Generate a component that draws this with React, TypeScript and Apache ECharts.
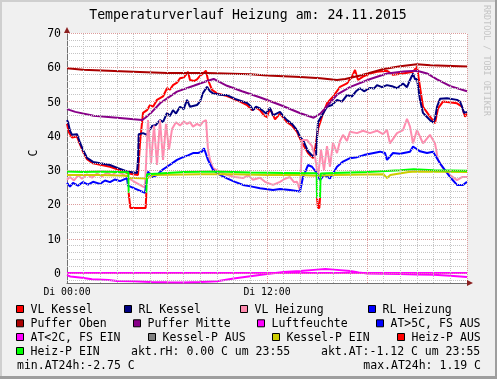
import React, { useEffect, useRef } from 'react';
import * as echarts from 'echarts';

type P = [number, number];

const TITLE = 'Temperaturverlauf Heizung am: 24.11.2015';
const UNIT = 'C';
const WATERMARK = 'RRDTOOL / TOBI OETIKER';
const X_TICKS = [0, 12];
const X_TICK_LABELS = ['Di 00:00', 'Di 12:00'];
const Y_TICKS = [0, 10, 20, 30, 40, 50, 60, 70];
const Y_MIN = -2.9;
const Y_MAX = 70;

const vlKessel: P[] = [
  [0, 43.5], [0.12, 41], [0.3, 39.5], [0.6, 39.8], [0.78, 37.5], [1.0, 35], [1.2, 33.2], [1.56, 32], [2, 31.6],
  [2.58, 31], [3.06, 30.2], [3.6, 29.2], [3.96, 28.8], [4.26, 28.6], [4.38, 38], [4.56, 46.7], [4.8, 47.5],
  [4.98, 49], [5.16, 48.5], [5.4, 50.5], [5.58, 51], [5.76, 51.5], [6, 53.9], [6.18, 53.5], [6.36, 54.8],
  [6.6, 55.5], [6.78, 56.8], [7.0, 57], [7.2, 58.2], [7.26, 58.7], [7.38, 56.3], [7.62, 56], [7.8, 56.5],
  [7.98, 57.5], [8.16, 58.2], [8.34, 59], [8.46, 56.3], [8.7, 53.4], [9, 52.4], [9.48, 51.8], [9.9, 51],
  [10.38, 50], [10.8, 49], [11.1, 47.5], [11.34, 48.2], [11.58, 47.5], [11.82, 46], [12, 45.5], [12.18, 48],
  [12.48, 44.8], [12.78, 46.5], [13.2, 44], [13.5, 43], [13.8, 41.2], [14.1, 38], [14.46, 35], [14.76, 33.5],
  [14.88, 36], [15.06, 42], [15.3, 45.6], [15.6, 49.5], [15.96, 51.4], [16.38, 54.3], [16.8, 55.3], [17.1, 57.3],
  [17.28, 59.2], [17.46, 56.3], [17.76, 57.3], [18.18, 58.2], [18.6, 58.7], [19.2, 59], [19.56, 57.8],
  [20.16, 58.2], [20.76, 58.7], [21, 60.2], [21.18, 54.3], [21.36, 48.5], [21.78, 45.6], [22.08, 43.7],
  [22.26, 48], [22.56, 50], [23.4, 49.5], [23.7, 48.5], [23.88, 45.6], [24, 46.5],
];

const rlKessel: P[] = [
  [0, 44.6], [0.06, 44], [0.18, 41.5], [0.3, 40.3], [0.6, 40.5], [0.78, 38], [1.0, 35.5], [1.2, 33.6],
  [1.56, 32.4], [2, 32], [2.58, 31.5], [3.06, 30.6], [3.6, 29.6], [4.2, 29.2], [4.26, 33], [4.3, 40.5],
  [4.56, 40.8], [4.8, 40.3], [5.1, 42.9], [5.34, 43.2], [5.58, 44.6], [5.76, 44], [6, 46.7], [6.18, 45.8],
  [6.36, 47.5], [6.54, 46.5], [6.78, 48.5], [7.0, 47.8], [7.2, 50.5], [7.38, 48.5], [7.8, 49], [7.98, 50],
  [8.16, 52.5], [8.4, 54.3], [8.58, 53], [8.76, 52.4], [9.18, 52], [9.6, 51.9], [10.08, 50.8], [10.8, 49.6],
  [11, 48.8], [11.16, 47.5], [11.34, 48.5], [11.58, 48], [11.94, 46.5], [12.18, 48.2], [12.36, 46],
  [12.78, 47], [13.0, 45.6], [13.2, 44.6], [13.5, 43.5], [13.8, 41.7], [14, 39.5], [14.16, 38.8], [14.46, 35.5],
  [14.76, 34], [14.94, 34.5], [15.06, 44], [15.3, 46], [15.6, 48.5], [15.9, 49], [16.2, 50.5], [16.5, 50],
  [16.8, 51.9], [17.1, 51.5], [17.34, 53], [17.58, 53.9], [17.82, 53], [18.18, 54], [18.42, 53.8], [18.6, 54.8],
  [18.9, 54.2], [19.2, 54.8], [19.5, 54.5], [19.8, 53.9], [20.16, 55.3], [20.4, 54.2], [20.58, 56.3],
  [20.76, 58.2], [20.88, 56.5], [21, 56.6], [21.18, 50.5], [21.36, 46.7], [21.6, 45.5], [21.78, 44.6],
  [21.96, 43.9], [22.08, 45], [22.2, 48.5], [22.38, 50.8], [22.8, 51], [23.4, 50.5], [23.58, 50],
  [23.7, 48.5], [23.82, 46.7], [24, 47],
];

const vlHeizung: P[] = [
  [0, 27.2], [0.18, 28], [0.42, 27], [0.66, 28.5], [0.9, 27.5], [1.2, 28.8], [1.5, 27.8], [1.8, 29],
  [2.1, 28.2], [2.4, 29.3], [2.7, 28.5], [3.0, 29.6], [3.3, 29], [3.6, 28], [4.08, 26.5], [4.56, 25.2],
  [4.68, 25], [4.86, 44.6], [5.04, 32], [5.22, 43], [5.4, 31.5], [5.58, 44.6], [5.76, 33], [5.94, 43.5],
  [6.12, 36], [6.3, 42], [6.54, 44], [6.78, 43], [7.02, 44.2], [7.2, 43.5], [7.38, 44], [7.56, 42.7],
  [7.8, 43.5], [7.98, 43], [8.16, 44.1], [8.34, 44.6], [8.46, 36], [8.58, 33], [8.76, 30.6], [9.18, 29.5],
  [9.6, 28.6], [10.08, 28], [10.56, 27.7], [10.86, 28.5], [11.16, 27.2], [11.58, 27.8], [11.88, 26.6],
  [12.36, 25.7], [12.78, 26.6], [13.08, 27.5], [13.38, 28], [13.62, 26.5], [13.8, 26.6], [13.98, 24.2],
  [14.1, 38.8], [14.4, 38.8], [14.7, 37], [14.88, 34], [15.06, 28], [15.24, 36], [15.42, 30], [15.6, 37],
  [15.78, 31], [15.96, 38], [16.2, 35], [16.38, 38.5], [16.56, 40.3], [16.8, 38.5], [16.98, 41.2],
  [17.4, 40.8], [17.76, 41.5], [18.18, 40.8], [18.6, 41.5], [18.96, 40.5], [19.2, 41.7], [19.38, 37.8],
  [19.8, 40.8], [20.16, 41.7], [20.4, 45], [20.58, 42.7], [20.76, 37.8], [21, 41.7], [21.36, 37.8],
  [21.78, 40.3], [22.08, 37.8], [22.26, 33], [22.56, 30.6], [22.98, 28.6], [23.4, 27.1], [23.7, 28], [24, 28],
];

const rlHeizung: P[] = [
  [0, 26.3], [0.18, 25.2], [0.36, 26.3], [0.66, 25.5], [0.96, 26.5], [1.26, 25.8], [1.56, 26.6], [1.98, 26],
  [2.28, 27], [2.58, 26.5], [2.88, 27.3], [3.18, 26.8], [3.6, 27.7], [3.66, 25.5], [4.08, 24.6], [4.68, 23.4],
  [4.86, 29.6], [5.1, 28], [5.4, 28.6], [5.7, 30], [6, 31], [6.3, 32], [6.6, 33], [6.96, 33.8], [7.26, 34.3],
  [7.56, 35], [7.86, 35], [8.1, 35.4], [8.22, 36.4], [8.46, 33], [8.76, 30.1], [9.18, 28.6], [9.6, 27.6],
  [10.08, 26.6], [10.56, 25.7], [11.1, 25.2], [11.58, 24.7], [12.36, 24.2], [12.78, 24.5], [13.38, 24.2],
  [13.98, 23.8], [14.16, 28], [14.46, 31.5], [14.7, 31], [15.0, 29.1], [15.18, 27.1], [15.42, 28.6],
  [15.78, 27.6], [16.2, 31], [16.56, 32.5], [16.98, 33.5], [17.4, 33.8], [17.82, 34.4], [18.18, 34.8],
  [18.78, 35.4], [19.08, 35], [19.2, 33], [19.56, 35], [19.98, 34.8], [20.58, 35.4], [20.76, 36.9],
  [21.18, 35.5], [21.6, 35], [21.96, 35.4], [22.38, 32], [22.98, 28], [23.4, 25.7], [23.76, 25.7], [24, 26.6],
];

const pufferOben: P[] = [
  [0, 59.7], [0.96, 59.3], [3.96, 58.7], [6, 58.3], [8.4, 58.3], [11, 58], [12, 57.6], [14, 57.2],
  [15.2, 56.8], [16.2, 56.3], [16.7, 56.6], [17.6, 57.6], [19, 59.5], [20, 60.3], [21, 60.9], [21.8, 60.6],
  [24, 60.2],
];

const pufferMitte: P[] = [
  [0, 47.8], [0.5, 47], [1.6, 45.9], [3, 45.3], [4.5, 44.6], [4.7, 45.3], [5, 46.5], [5.6, 49.6],
  [6.6, 52.9], [7.6, 54.6], [8.4, 56], [8.8, 56.6], [9.6, 54.6], [10.5, 53], [11.6, 51.2], [12.8, 49],
  [14, 46.6], [14.8, 45.3], [15.2, 46.5], [16.2, 52], [17, 54.3], [18.2, 56.6], [19.2, 58.2], [20.2, 58.8],
  [21, 59], [21.6, 58.2], [22.2, 56.5], [23, 54.5], [24, 53],
];

const luftfeuchte: P[] = [[0, 0], [24, 0]];

const aussenTemp: P[] = [
  [0, -0.6], [0.2, -1.0], [0.9, -1.4], [1.5, -1.8], [2.5, -2.0], [3, -2.3], [4, -2.4], [5, -2.6], [6, -2.7],
  [7, -2.75], [8, -2.6], [9, -2.4], [10, -1.6], [11, -0.9], [12, -0.3], [13, 0.3], [14, 0.6], [15, 1.0],
  [15.5, 1.19], [16, 1.0], [17, 0.6], [17.5, 0.2], [18, -0.1], [19, -0.2], [20, -0.3], [21, -0.4],
  [22, -0.5], [23, -0.8], [24, -1.12],
];

const kesselPEin: P[] = [
  [0, 28.6], [2, 28.6], [3.6, 28.4], [3.7, 27.8], [4.8, 27.6], [5.2, 28.6], [8, 28.8], [10, 28.8], [12, 28.6],
  [14, 28.6], [15, 28.4], [16, 28.6], [19, 28.8], [19.2, 27.7], [19.4, 28.6], [20.5, 29.5], [21, 29.6], [24, 29.5],
];

const heizPEinSegments: P[][] = [
  [[0, 29.6], [1, 29.5], [2, 29.6], [3, 29.5], [3.68, 29.4], [3.7, 23.4]],
  [[4.76, 23.4], [4.8, 28.8], [5.5, 29], [7, 29.5], [9, 29.6], [11, 29.3], [13, 29.2], [14.98, 29.1], [15.0, 21.9]],
  [[15.18, 21.9], [15.22, 29], [16, 29.2], [18, 29.5], [20, 30], [20.8, 30.3], [22, 30], [24, 29.8]],
];

const heizPAusSegments: P[][] = [
  [[3.7, 23.4], [3.8, 19], [4.72, 19], [4.76, 23.4]],
  [[15.0, 21.9], [15.06, 19], [15.14, 19], [15.18, 21.9]],
];

const LEGEND_ROWS: { name: string; color: string; x: number }[][] = [
  [
    { name: 'VL Kessel', color: '#FF0000', x: 16 },
    { name: 'RL Kessel', color: '#000080', x: 124 },
    { name: 'VL Heizung', color: '#FF8CAF', x: 240 },
    { name: 'RL Heizung', color: '#0000FF', x: 368 },
  ],
  [
    { name: 'Puffer Oben', color: '#AA0000', x: 16 },
    { name: 'Puffer Mitte', color: '#880088', x: 133 },
    { name: 'Luftfeuchte', color: '#FF00FF', x: 257 },
    { name: 'AT>5C, FS AUS', color: '#0000FF', x: 376 },
  ],
  [
    { name: 'AT<2C, FS EIN', color: '#FF00FF', x: 16 },
    { name: 'Kessel-P AUS', color: '#808080', x: 148 },
    { name: 'Kessel-P EIN', color: '#CCCC00', x: 272 },
    { name: 'Heiz-P AUS', color: '#FF0000', x: 397 },
  ],
  [{ name: 'Heiz-P EIN', color: '#00FF00', x: 16 }],
];
const LEGEND_ROW_Y = [309, 323.3, 337, 351, 365];
const INFO_TEXTS = [
  { text: 'akt.rH: 0.00 C um 23:55', x: 131, row: 3, align: 'left' },
  { text: 'akt.AT:-1.12 C um 23:55', x: 321, row: 3, align: 'left' },
  { text: 'min.AT24h:-2.75 C', x: 17, row: 4, align: 'left' },
  { text: 'max.AT24h: 1.19 C', x: 481, row: 4, align: 'right' },
];

const FONT = '"DejaVu Sans Mono", monospace';
const GRID_MINOR = '#c4c4c4';
const GRID_MAJOR = '#dc9c9c';

export default function App() {
  const ref = useRef<HTMLDivElement>(null);
  useEffect(() => {
    if (!ref.current) return;
    const chart = echarts.init(ref.current, undefined, { renderer: 'svg', width: 497, height: 379 });

    const lineSeries = (name: string, data: P[], color: string, width = 2) => ({
      type: 'line',
      name,
      data,
      showSymbol: false,
      symbol: 'none',
      lineStyle: { color, width },
      itemStyle: { color },
      silent: true,
      animation: false,
    });

    const hLines: any[] = [];
    for (let v = -2; v <= 70; v += 2) {
      hLines.push({
        yAxis: v,
        lineStyle: { color: v % 10 === 0 ? GRID_MAJOR : GRID_MINOR, type: [1, 1], width: 1 },
      });
    }
    for (let h = 1; h <= 24; h += 1) {
      hLines.push({
        xAxis: h,
        lineStyle: { color: h % 6 === 0 ? GRID_MAJOR : GRID_MINOR, type: [1, 1], width: 1 },
      });
    }

    const series: any[] = [
      {
        type: 'line',
        data: [],
        z: 1,
        silent: true,
        markLine: { silent: true, symbol: ['none', 'none'], label: { show: false }, data: hLines, animation: false },
      },
      lineSeries('VL Kessel', vlKessel, '#FF0000'),
      lineSeries('RL Kessel', rlKessel, '#000080'),
      lineSeries('VL Heizung', vlHeizung, '#FF8CAF'),
      lineSeries('RL Heizung', rlHeizung, '#0000FF'),
      lineSeries('Puffer Oben', pufferOben, '#AA0000'),
      lineSeries('Puffer Mitte', pufferMitte, '#880088'),
      lineSeries('Luftfeuchte', luftfeuchte, '#FF00FF'),
      lineSeries('AT<2C, FS EIN', aussenTemp, '#FF00FF'),
      lineSeries('Kessel-P EIN', kesselPEin, '#CCCC00'),
      ...heizPEinSegments.map((s) => lineSeries('Heiz-P EIN', s, '#00FF00')),
      ...heizPAusSegments.map((s) => lineSeries('Heiz-P AUS', s, '#FF0000')),
    ];

    const graphics: any[] = [
      { type: 'rect', shape: { x: 0, y: 0, width: 497, height: 379 }, style: { fill: '#F0F0F0' }, z: -10 },
      { type: 'rect', shape: { x: 0, y: 0, width: 497, height: 2 }, style: { fill: '#CFCFCF' }, z: -9 },
      { type: 'rect', shape: { x: 0, y: 0, width: 2, height: 379 }, style: { fill: '#CFCFCF' }, z: -9 },
      { type: 'rect', shape: { x: 0, y: 376, width: 497, height: 3 }, style: { fill: '#9E9E9E' }, z: -9 },
      { type: 'rect', shape: { x: 495, y: 0, width: 2, height: 379 }, style: { fill: '#9E9E9E' }, z: -9 },
      {
        type: 'text', x: 248, y: 14,
        style: { text: TITLE, font: `13.2px ${FONT}`, fill: '#000', align: 'center', verticalAlign: 'middle' },
      },
      {
        type: 'text', x: 487, y: 5, rotation: -Math.PI / 2,
        style: { text: WATERMARK, font: `8.4px ${FONT}`, fill: '#C4C4C4', align: 'left', verticalAlign: 'middle' },
      },
      {
        type: 'text', x: 33, y: 153, rotation: Math.PI / 2,
        style: { text: UNIT, font: `11.5px ${FONT}`, fill: '#000', align: 'center', verticalAlign: 'middle' },
      },
      { type: 'polygon', shape: { points: [[467, 280], [473, 283], [467, 286]] }, style: { fill: '#8B2020' }, z: 10 },
      { type: 'polygon', shape: { points: [[64, 33], [67, 27], [70, 33]] }, style: { fill: '#8B2020' }, z: 10 },
    ];
    LEGEND_ROWS.forEach((row, ri) => {
      row.forEach((item) => {
        graphics.push({
          type: 'rect',
          shape: { x: item.x + 0.5, y: LEGEND_ROW_Y[ri] - 3.5, width: 7, height: 7 },
          style: { fill: item.color, stroke: '#000', lineWidth: 1 },
        });
        graphics.push({
          type: 'text', x: item.x + 14.5, y: LEGEND_ROW_Y[ri],
          style: { text: item.name, font: `11.5px ${FONT}`, fill: '#000', align: 'left', verticalAlign: 'middle' },
        });
      });
    });
    INFO_TEXTS.forEach((t) => {
      graphics.push({
        type: 'text', x: t.x, y: LEGEND_ROW_Y[t.row],
        style: { text: t.text, font: `11.5px ${FONT}`, fill: '#000', align: t.align, verticalAlign: 'middle' },
      });
    });

    chart.setOption({
      animation: false,
      backgroundColor: 'transparent',
      grid: { left: 67, top: 33, width: 400, height: 250, show: true, backgroundColor: '#FFFFFF', borderWidth: 0 },
      xAxis: {
        type: 'value', min: 0, max: 24, interval: 1,
        axisLine: { show: true, onZero: false, lineStyle: { color: '#707070', width: 1 } },
        axisTick: { show: false },
        splitLine: { show: false },
        axisLabel: {
          fontFamily: 'DejaVu Sans Mono', fontSize: 9.8, color: '#000', margin: 3,
          customValues: X_TICKS,
          formatter: (v: number) => {
            const i = X_TICKS.indexOf(v);
            return i >= 0 ? X_TICK_LABELS[i] : '';
          },
        },
      },
      yAxis: {
        type: 'value', min: Y_MIN, max: Y_MAX,
        axisLine: { show: true, onZero: false, lineStyle: { color: '#707070', width: 1 } },
        axisTick: { show: false },
        splitLine: { show: false },
        axisLabel: {
          fontFamily: 'DejaVu Sans Mono', fontSize: 11.5, color: '#000', margin: 6,
          customValues: Y_TICKS,
        },
      },
      graphic: graphics,
      series,
    });
    return () => chart.dispose();
  }, []);
  return <div ref={ref} style={{ position: 'fixed', left: 0, top: 0, width: 497, height: 379 }} />;
}
